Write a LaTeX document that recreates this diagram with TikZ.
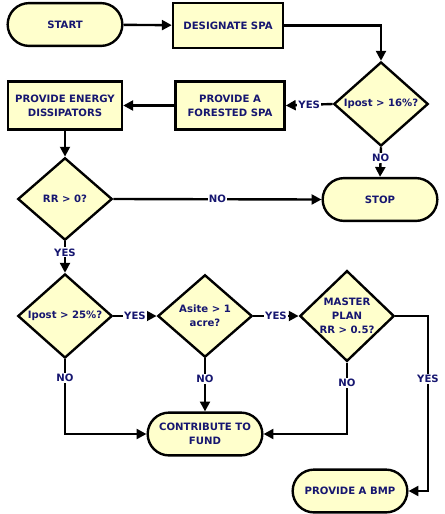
\documentclass[tikz,border=0pt]{standalone}
\usepackage{fontspec}
\setmainfont{DejaVu Sans}
\usetikzlibrary{shapes.geometric,shapes.misc,arrows.meta}

\definecolor{boxfill}{RGB}{255,255,204}
\definecolor{navy}{RGB}{22,22,112}

\tikzset{
    every node/.style={font=\bfseries\fontsize{7.2}{10}\selectfont,text=navy,align=center},
    term/.style={draw,fill=boxfill,rounded rectangle,minimum width=3.1cm,minimum height=1.07cm},
    proc/.style={draw,fill=boxfill,rectangle,minimum height=1.2cm},
    test/.style={draw,fill=boxfill,diamond,inner sep=0pt,minimum width=2.36cm,minimum height=2.06cm},
    lbl/.style={fill=white,inner sep=0.8pt},
}

\begin{document}
\begin{tikzpicture}[x=0.025cm,y=-0.025cm,line width=1.7pt,>={Triangle[length=7pt,width=7pt]}]
\useasboundingbox (0,0) rectangle (445,514);
\node [term] (start) at (65,24.5) {START};
\node [proc,minimum width=2.75cm,minimum height=1.12cm] (dspa) at (228,25.5) {DESIGNATE SPA};
\node [test] (ip16) at (381,104) {Ipost > 16\%?};
\node [proc,minimum width=2.73cm] (fspa) at (230,105.5) {PROVIDE A\\ FORESTED SPA};
\node [proc,minimum width=2.85cm] (diss) at (65,105.5) {PROVIDE ENERGY\\ DISSIPATORS};
\node [test] (rr0) at (65,199) {RR > 0?};
\node [term] (stop) at (380,199.5) {STOP};
\node [test] (ip25) at (65,316) {Ipost > 25\%?};
\node [test] (asite) at (205,316) {Asite > 1\\ acre?};
\node [test] (mplan) at (347,316) {MASTER\\ PLAN\\ RR > 0.5?};
\node [term] (fund) at (205,434) {CONTRIBUTE TO\\ FUND};
\node [term] (bmp) at (350,491) {PROVIDE A BMP};
\coordinate (turn) at (428,316);

\draw [->] (start) -- (dspa);
\draw [->] (dspa.east) -| (ip16.north);
\draw [->] (ip16.west) -- node [lbl] (y1) {YES} (fspa.east);
\draw [->] (ip16.south) -- node [lbl,pos=0.35] (n1) {NO} (stop.north);
\draw [->] (fspa.west) -- (diss.east);
\draw [->] (diss.south) -- (rr0.north);
\draw [->] (rr0.east) -- node [lbl] (n2) {NO} (stop.west);
\draw [->] (rr0.south) -- node [lbl,pos=0.35] (y2) {YES} (ip25.north);
\draw [->] (ip25.east) -- node [lbl] (y3) {YES} (asite.west);
\draw [->] (asite.east) -- node [lbl] (y4) {YES} (mplan.west);
\draw [->] (ip25.south) |- node [lbl,pos=0.125] (n3) {NO} (fund.west);
\draw [->] (asite.south) -- node [lbl,pos=0.38] (n4) {NO} (fund.north);
\draw [->] (mplan.south) |- node [lbl,pos=0.14] (n5) {NO} (fund.east);
\draw [->] (mplan.east) -- (turn) |- node [lbl,pos=0.18] (y5) {YES} (bmp.east);
\end{tikzpicture}
\end{document}
